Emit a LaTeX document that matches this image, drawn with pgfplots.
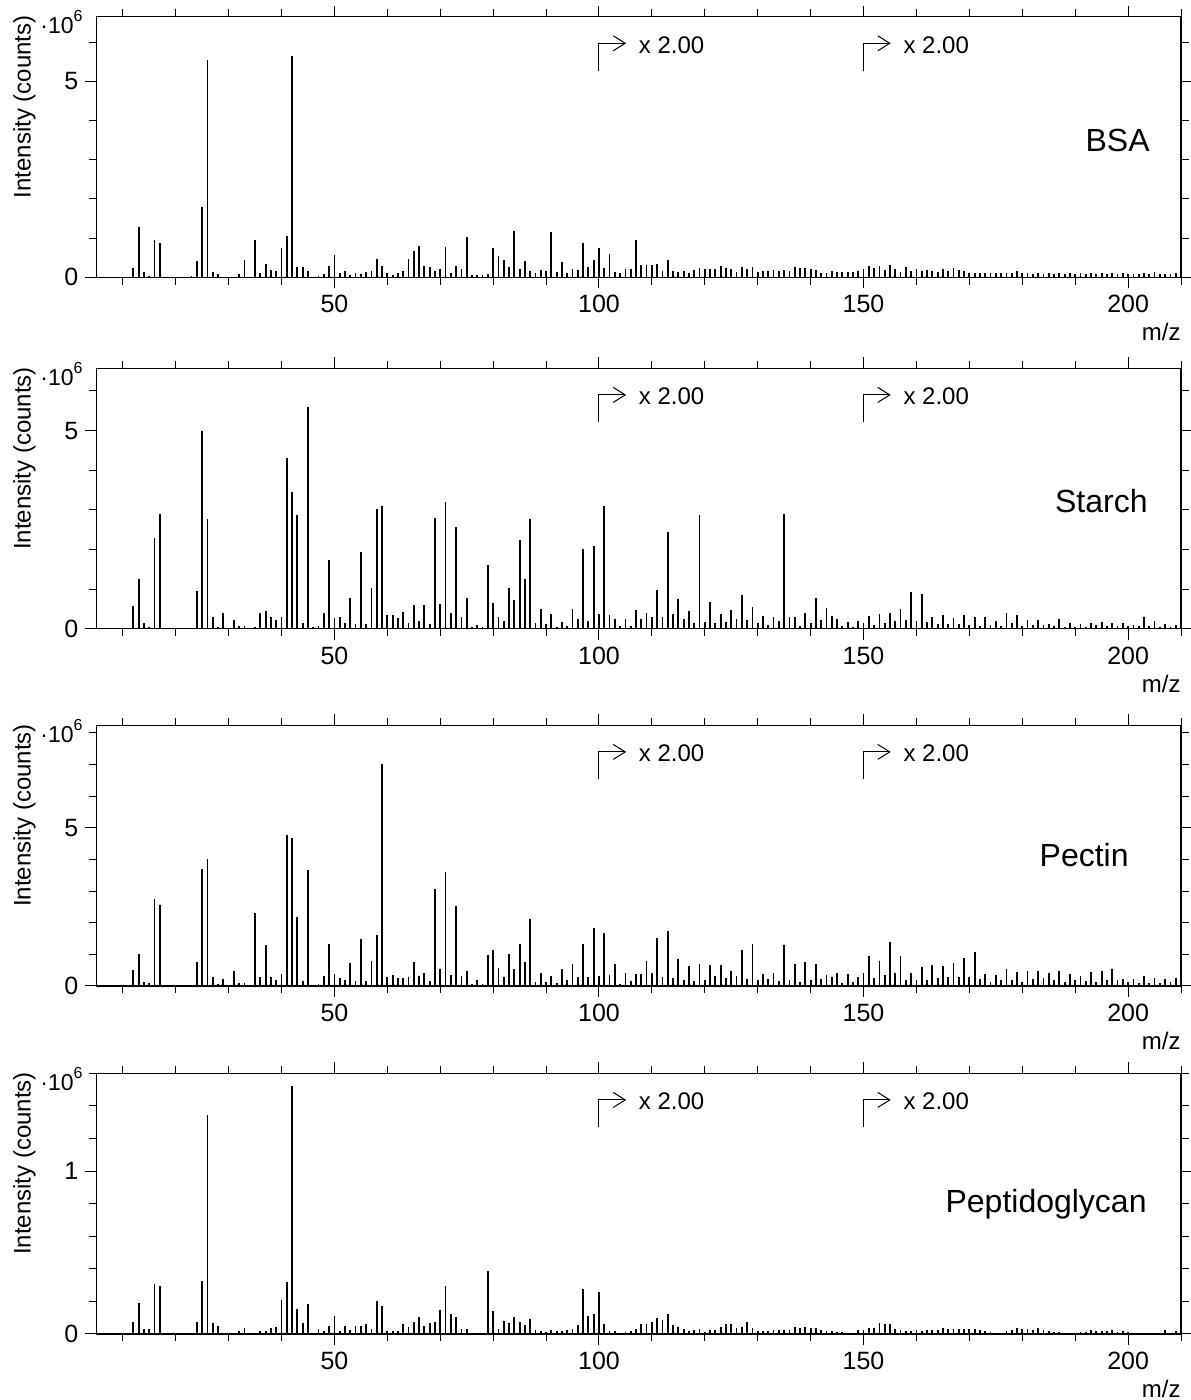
\documentclass[border=0pt]{standalone}
\usepackage{fontspec}
\setmainfont{Liberation Sans}
\usepackage{pgfplots}
\pgfplotsset{compat=1.18}
\usetikzlibrary{arrows.meta}

\newcommand{\fs}[1]{\fontsize{#1}{#1}\selectfont}

\pgfplotsset{
  spec/.style={
    width=542.35pt, height=130.3pt, scale only axis,
    xmin=5, xmax=210, ymin=0,
    axis line style={line width=0.6pt},
    tick style={line width=0.5pt, black},
    tick align=outside, tick pos=both,
    xtick={50,100,150,200}, xticklabels={50,100,150,200},
    minor xtick={10,20,...,210},
    major tick length=5.5pt, minor tick length=3.75pt,
    ticklabel style={font=\fs{12.5}},
    /pgf/number format/assume math mode=true,
    clip=false,
  },
  pk/.style={black, line width=0.9pt, mark=none},
}

\newcommand{\deco}[3]{%
  \node[anchor=base east,inner sep=0,rotate=90,font=\fs{12}] at ([xshift=-32.8pt,yshift=0.85pt]rel axis cs:0,1) {Intensity (counts)};
  \node[anchor=base west,inner sep=0] at ([xshift=-28.15pt,yshift=-8.5pt]rel axis cs:0,1) {{\fs{11.5}·10}\raisebox{6pt}{\fs{8}6}};
  \node[anchor=base east,inner sep=0,font=\fs{12}] at ([yshift=-31.85pt]rel axis cs:1,0) {m/z};
  \node[anchor=base east,inner sep=0,font=\fs{16}] at ([xshift=-#2,yshift=-#3]rel axis cs:1,1) {#1};
}
% #1 = x position, #2 = ymax of the panel
\newcommand{\arr}[2]{%
  \draw[line width=0.5pt,-{Straight Barb[length=6pt,width=7.5pt]}]
    ([yshift=-27pt]axis cs:#1,#2) -- ([yshift=-13.3pt]axis cs:#1,#2) -- ([xshift=13.6pt,yshift=-13.3pt]axis cs:#1,#2);
  \node[anchor=base west,inner sep=0,font=\fs{12}] at ([xshift=19.8pt,yshift=-18.3pt]axis cs:#1,#2) {x 2.00};
}

\begin{document}
\begin{tikzpicture}
\useasboundingbox (0,0) rectangle (595pt,-700pt);

% ---------------- BSA
\begin{axis}[spec, at={(48.15pt,-8.35pt)}, anchor=north west,
  ymax=6.65, ytick={0,5}, yticklabels={0,5}, minor ytick={1,2,3,4,6}]
\addplot[ycomb,pk] coordinates {
(12,0.24)(13,1.29)(14,0.14)(15,0.04)(16,0.94)(17,0.87)(19,0.02)(23,0.03)(24,0.42)(25,1.80)
(26,5.55)(27,0.13)(28,0.08)(32,0.08)(33,0.44)(35,0.94)(36,0.11)(37,0.34)(38,0.19)(39,0.16)
(40,0.75)(41,1.05)(42,5.65)(43,0.25)(44,0.27)(45,0.16)(46,0.02)(47,0.03)(48,0.08)(49,0.28)
(50,0.57)(51,0.11)(52,0.16)(53,0.06)(54,0.12)(55,0.08)(56,0.14)(57,0.15)(58,0.47)(59,0.30)
(60,0.10)(61,0.06)(62,0.11)(63,0.16)(64,0.47)(65,0.68)(66,0.81)(67,0.30)(68,0.27)(69,0.16)
(70,0.22)(71,0.77)(72,0.12)(73,0.28)(74,0.21)(75,1.03)(76,0.05)(77,0.05)(78,0.05)(79,0.08)
(80,0.75)(81,0.54)(82,0.44)(83,0.25)(84,1.17)(85,0.21)(86,0.42)(87,0.15)(88,0.11)(89,0.18)
(90,0.16)(91,1.15)(92,0.13)(93,0.38)(94,0.10)(95,0.21)(96,0.18)(97,0.87)(98,0.25)(99,0.44)
(100,0.76)(101,0.23)(102,0.59)(103,0.13)(104,0.11)(105,0.21)(106,0.20)(107,0.96)(108,0.31)(109,0.31)
(110,0.32)(111,0.35)(112,0.17)(113,0.44)(114,0.16)(115,0.14)(116,0.15)(117,0.11)(118,0.19)(119,0.23)
(120,0.20)(121,0.20)(122,0.20)(123,0.28)(124,0.23)(125,0.21)(126,0.14)(127,0.26)(128,0.20)(129,0.25)
(130,0.14)(131,0.16)(132,0.16)(133,0.18)(134,0.16)(135,0.19)(136,0.16)(137,0.25)(138,0.23)(139,0.23)
(140,0.21)(141,0.19)(142,0.11)(143,0.12)(144,0.16)(145,0.14)(146,0.14)(147,0.14)(148,0.14)(149,0.17)
(150,0.21)(151,0.28)(152,0.24)(153,0.28)(154,0.19)(155,0.32)(156,0.21)(157,0.14)(158,0.25)(159,0.16)
(160,0.21)(161,0.16)(162,0.18)(163,0.16)(164,0.14)(165,0.20)(166,0.16)(167,0.23)(168,0.19)(169,0.16)
(170,0.12)(171,0.11)(172,0.12)(173,0.10)(174,0.12)(175,0.11)(176,0.10)(177,0.12)(178,0.11)(179,0.16)
(180,0.10)(181,0.12)(182,0.09)(183,0.11)(184,0.09)(185,0.11)(186,0.08)(187,0.10)(188,0.09)(189,0.11)
(190,0.08)(191,0.10)(192,0.08)(193,0.10)(194,0.09)(195,0.11)(196,0.08)(197,0.10)(198,0.09)(199,0.10)
(200,0.08)(201,0.09)(202,0.08)(203,0.10)(204,0.08)(205,0.13)(206,0.08)(207,0.09)(208,0.08)(209,0.10)
};
\deco{BSA}{15.5pt}{67.4pt}
\arr{100}{6.65}\arr{150}{6.65}
\end{axis}

% ---------------- Starch
\begin{axis}[spec, at={(48.15pt,-184.15pt)}, anchor=north west,
  ymax=6.57, ytick={0,5}, yticklabels={0,5}, minor ytick={1,2,3,4,6}]
\addplot[ycomb,pk] coordinates {
(12,0.57)(13,1.25)(14,0.15)(15,0.06)(16,2.28)(17,2.89)(19,0.03)(24,0.95)(25,4.99)(26,2.78)
(27,0.30)(28,0.04)(29,0.39)(31,0.23)(32,0.07)(33,0.07)(35,0.06)(36,0.39)(37,0.45)(38,0.30)
(39,0.23)(40,0.29)(41,4.30)(42,3.44)(43,2.86)(44,0.16)(45,5.59)(46,0.06)(47,0.08)(48,0.40)
(49,1.73)(50,0.28)(51,0.29)(52,0.16)(53,0.79)(54,0.12)(55,1.93)(56,0.12)(57,1.03)(58,3.03)
(59,3.10)(60,0.35)(61,0.35)(62,0.28)(63,0.42)(64,0.15)(65,0.59)(66,0.21)(67,0.60)(68,0.12)
(69,2.80)(70,0.63)(71,3.19)(72,0.40)(73,2.56)(74,0.29)(75,0.77)(76,0.06)(77,0.11)(78,0.06)
(79,1.60)(80,0.66)(81,0.31)(82,0.21)(83,1.03)(84,0.72)(85,2.23)(86,1.25)(87,2.76)(88,0.16)
(89,0.51)(90,0.12)(91,0.37)(92,0.06)(93,0.17)(94,0.07)(95,0.51)(96,0.26)(97,2.01)(98,0.20)
(99,2.09)(100,0.38)(101,3.11)(102,0.36)(103,0.25)(104,0.07)(105,0.24)(106,0.08)(107,0.48)(108,0.25)
(109,0.40)(110,0.31)(111,0.97)(112,0.31)(113,2.45)(114,0.38)(115,0.75)(116,0.24)(117,0.46)(118,0.15)
(119,2.87)(120,0.17)(121,0.67)(122,0.14)(123,0.37)(124,0.17)(125,0.47)(126,0.25)(127,0.86)(128,0.23)
(129,0.56)(130,0.15)(131,0.33)(132,0.09)(133,0.30)(134,0.20)(135,2.89)(136,0.31)(137,0.31)(138,0.07)
(139,0.40)(140,0.14)(141,0.78)(142,0.22)(143,0.53)(144,0.32)(145,0.25)(146,0.08)(147,0.18)(148,0.05)
(149,0.20)(150,0.16)(151,0.33)(152,0.10)(153,0.37)(154,0.16)(155,0.41)(156,0.20)(157,0.51)(158,0.22)
(159,0.92)(160,0.20)(161,0.89)(162,0.18)(163,0.31)(164,0.12)(165,0.35)(166,0.12)(167,0.28)(168,0.12)
(169,0.34)(170,0.11)(171,0.29)(172,0.08)(173,0.31)(174,0.09)(175,0.19)(176,0.07)(177,0.41)(178,0.15)
(179,0.36)(180,0.07)(181,0.23)(182,0.10)(183,0.23)(184,0.10)(185,0.13)(186,0.07)(187,0.25)(188,0.06)
(189,0.14)(190,0.06)(191,0.12)(192,0.06)(193,0.16)(194,0.10)(195,0.18)(196,0.08)(197,0.14)(198,0.08)
(199,0.14)(200,0.07)(201,0.09)(202,0.07)(203,0.31)(204,0.07)(205,0.19)(206,0.05)(207,0.13)(208,0.05)
(209,0.11)
};
\deco{Starch}{16.5pt}{71.85pt}
\arr{100}{6.57}\arr{150}{6.57}
\end{axis}

% ---------------- Pectin
\begin{axis}[spec, at={(48.15pt,-362.65pt)}, anchor=north west,
  ymax=8.24, ytick={0,5}, yticklabels={0,5}, minor ytick={1,2,3,4,6,7,8}]
\addplot[ycomb,pk] coordinates {
(12,0.50)(13,1.02)(14,0.13)(15,0.08)(16,2.76)(17,2.55)(19,0.02)(23,0.02)(24,0.75)(25,3.71)
(26,4.01)(27,0.28)(28,0.06)(29,0.23)(31,0.46)(32,0.09)(33,0.09)(35,2.29)(36,0.27)(37,1.29)
(38,0.27)(39,0.20)(40,0.38)(41,4.77)(42,4.68)(43,2.18)(44,0.17)(45,3.66)(46,0.02)(47,0.05)
(48,0.32)(49,1.32)(50,0.38)(51,0.25)(52,0.20)(53,0.71)(54,0.15)(55,1.49)(56,0.16)(57,0.79)
(58,1.60)(59,7.01)(60,0.27)(61,0.34)(62,0.26)(63,0.24)(64,0.27)(65,0.74)(66,0.32)(67,0.41)
(68,0.17)(69,3.06)(70,0.52)(71,3.59)(72,0.34)(73,2.52)(74,0.30)(75,0.46)(76,0.06)(77,0.18)
(78,0.06)(79,0.97)(80,1.15)(81,0.58)(82,0.28)(83,1.00)(84,0.53)(85,1.32)(86,0.75)(87,2.11)
(88,0.13)(89,0.41)(90,0.13)(91,0.31)(92,0.09)(93,0.55)(94,0.19)(95,0.68)(96,0.27)(97,1.31)
(98,0.27)(99,1.82)(100,0.31)(101,1.68)(102,0.33)(103,0.69)(104,0.07)(105,0.42)(106,0.14)(107,0.39)
(108,0.39)(109,0.79)(110,0.42)(111,1.51)(112,0.28)(113,1.73)(114,0.26)(115,0.84)(116,0.20)(117,0.62)
(118,0.14)(119,0.69)(120,0.20)(121,0.65)(122,0.31)(123,0.67)(124,0.25)(125,0.47)(126,0.31)(127,1.14)
(128,0.23)(129,1.31)(130,0.20)(131,0.39)(132,0.21)(133,0.42)(134,0.16)(135,1.29)(136,0.18)(137,0.69)
(138,0.12)(139,0.74)(140,0.20)(141,0.69)(142,0.21)(143,0.36)(144,0.28)(145,0.42)(146,0.10)(147,0.39)
(148,0.11)(149,0.28)(150,0.40)(151,0.94)(152,0.24)(153,0.79)(154,0.34)(155,1.38)(156,0.42)(157,0.96)
(158,0.18)(159,0.42)(160,0.20)(161,0.59)(162,0.20)(163,0.66)(164,0.25)(165,0.63)(166,0.27)(167,0.72)
(168,0.29)(169,0.87)(170,0.29)(171,1.07)(172,0.21)(173,0.39)(174,0.12)(175,0.36)(176,0.20)(177,0.52)
(178,0.20)(179,0.44)(180,0.13)(181,0.47)(182,0.23)(183,0.47)(184,0.25)(185,0.41)(186,0.18)(187,0.47)
(188,0.12)(189,0.39)(190,0.18)(191,0.30)(192,0.16)(193,0.44)(194,0.12)(195,0.47)(196,0.20)(197,0.52)
(198,0.20)(199,0.23)(200,0.12)(201,0.22)(202,0.09)(203,0.30)(204,0.09)(205,0.24)(206,0.09)(207,0.23)
(208,0.12)(209,0.24)
};
\deco{Pectin}{26pt}{70.7pt}
\arr{100}{8.24}\arr{150}{8.24}
\end{axis}

% ---------------- Peptidoglycan
\begin{axis}[spec, at={(48.15pt,-536.65pt)}, anchor=north west,
  ymax=1.6, ytick={0,1}, yticklabels={0,1}, minor ytick={0.2,0.4,0.6,0.8,1.2,1.4,1.6}]
\addplot[ycomb,pk] coordinates {
(12,0.076)(13,0.187)(14,0.033)(15,0.031)(16,0.304)(17,0.292)(19,0.004)(24,0.076)(25,0.322)(26,1.341)
(27,0.068)(28,0.049)(29,0.006)(30,0.004)(31,0.004)(32,0.016)(33,0.037)(35,0.008)(36,0.018)(37,0.016)
(38,0.037)(39,0.043)(40,0.211)(41,0.316)(42,1.524)(43,0.150)(44,0.064)(45,0.181)(47,0.029)(48,0.018)
(49,0.051)(50,0.107)(51,0.018)(52,0.051)(53,0.027)(54,0.051)(55,0.047)(56,0.062)(57,0.033)(58,0.205)
(59,0.172)(60,0.016)(61,0.018)(62,0.016)(63,0.062)(64,0.045)(65,0.076)(66,0.103)(67,0.051)(68,0.070)
(69,0.076)(70,0.144)(71,0.292)(72,0.125)(73,0.101)(74,0.033)(75,0.031)(76,0.008)(77,0.008)(78,0.008)
(79,0.384)(80,0.138)(81,0.031)(82,0.082)(83,0.070)(84,0.105)(85,0.072)(86,0.057)(87,0.094)(88,0.025)
(89,0.016)(90,0.012)(91,0.025)(92,0.016)(93,0.016)(94,0.025)(95,0.033)(96,0.057)(97,0.275)(98,0.108)
(99,0.125)(100,0.256)(101,0.062)(102,0.016)(103,0.016)(104,0.008)(105,0.010)(106,0.016)(107,0.029)(108,0.058)
(109,0.058)(110,0.076)(111,0.097)(112,0.087)(113,0.120)(114,0.054)(115,0.043)(116,0.029)(117,0.019)(118,0.025)
(119,0.029)(120,0.014)(121,0.021)(122,0.027)(123,0.045)(124,0.058)(125,0.062)(126,0.035)(127,0.045)(128,0.076)
(129,0.035)(130,0.016)(131,0.016)(132,0.016)(133,0.021)(134,0.021)(135,0.021)(136,0.021)(137,0.041)(138,0.037)
(139,0.041)(140,0.037)(141,0.037)(142,0.025)(143,0.016)(144,0.016)(145,0.014)(146,0.014)(147,0.008)(148,0.008)
(149,0.025)(150,0.021)(151,0.035)(152,0.037)(153,0.070)(154,0.058)(155,0.058)(156,0.029)(157,0.021)(158,0.016)
(159,0.016)(160,0.021)(161,0.016)(162,0.025)(163,0.021)(164,0.021)(165,0.037)(166,0.029)(167,0.029)(168,0.029)
(169,0.029)(170,0.029)(171,0.029)(172,0.025)(173,0.016)(174,0.010)(175,0.008)(176,0.008)(177,0.016)(178,0.021)
(179,0.037)(180,0.029)(181,0.029)(182,0.021)(183,0.037)(184,0.021)(185,0.016)(186,0.012)(187,0.012)(188,0.008)
(189,0.008)(190,0.008)(191,0.012)(192,0.012)(193,0.021)(194,0.016)(195,0.016)(196,0.016)(197,0.021)(198,0.012)
(199,0.016)(200,0.012)(201,0.008)(202,0.008)(203,0.008)(204,0.008)(205,0.008)(206,0.008)(207,0.021)(208,0.008)
(209,0.016)
};
\deco{Peptidoglycan}{17pt}{69.5pt}
\arr{100}{1.6}\arr{150}{1.6}
\end{axis}
\end{tikzpicture}
\end{document}
